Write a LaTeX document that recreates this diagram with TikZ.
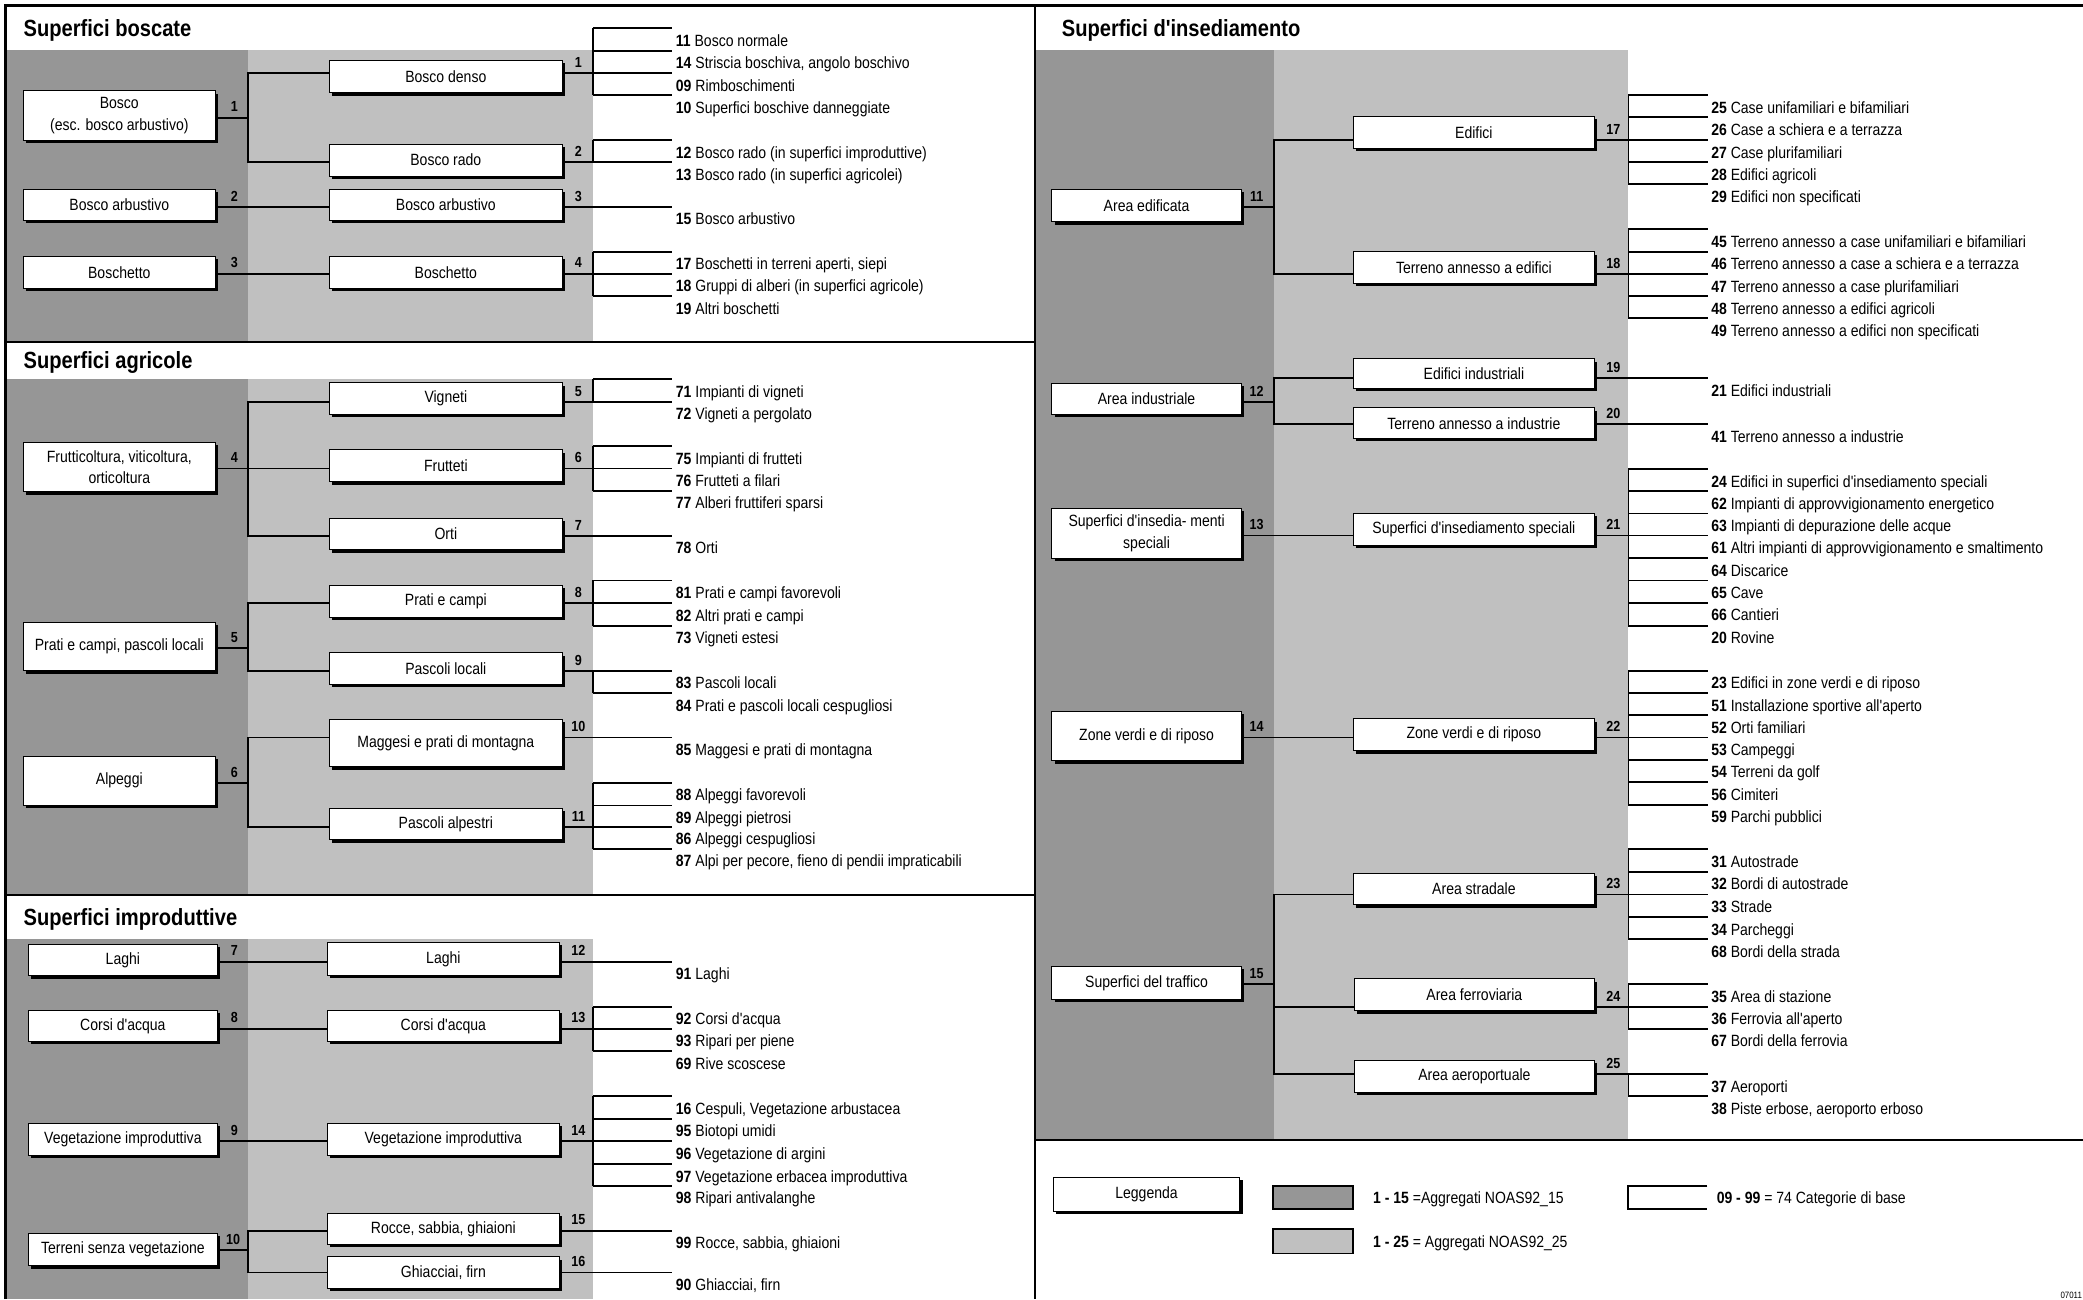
\documentclass[tikz,border=0pt]{standalone}
\usepackage{fontspec}
\setmainfont{Liberation Sans}[FakeStretch=0.86, Ligatures=TeXOff]
\usetikzlibrary{shadows}
\definecolor{dgray}{RGB}{150,150,150}
\definecolor{lgray}{RGB}{192,192,192}
\newcommand\xbody{\fontsize{8.15}{10.8}\selectfont}
\newcommand\xnum{\fontsize{7.3}{8}\selectfont\bfseries}
\newcommand\xtitle{\fontsize{11.7}{13}\selectfont\bfseries}
\tikzset{
  conn/.style={line width=0.9pt},
  frame/.style={line width=1.2pt},
  box/.style={draw, line width=0.5pt, fill=white, inner sep=0pt, font=\xbody, align=center,
    general shadow={fill=black, shadow xshift=1.4pt, shadow yshift=-1.4pt}},
  item/.style={font=\xbody, anchor=base west, inner sep=0pt},
  num/.style={font=\xnum, anchor=base, inner sep=0pt},
  ttl/.style={font=\xtitle, anchor=base west, inner sep=0pt},
  swatch/.style={draw, line width=0.9pt, inner sep=0pt},
}
% box: name, x1, y1, x2, y2, text
\newcommand\bx[6]{\node[box, minimum width={(#4-#2)*0.66425pt}, minimum height={(#5-#3)*0.66425pt}] (#1) at ({(#2+#4)/2},{(#3+#5)/2}) {#6};}
% bracket: xbracket, xend, ytop, ybottom, list y/num/text
\newcommand\brk[5]{\draw[conn] (#1,#3) -- (#1,#4);
  \foreach \yy/\nm/\tx in {#5}{\draw[conn] (#1,\yy) -- (#2,\yy);
    \node[item] (it\nm) at ({#2+2.4},{\yy+13.6}) {\textbf{\nm} \tx};}}
% number label: name, x, connector y, text
\newcommand\nlab[4]{\node[num] (#1) at (#2,{#3-4.3}) {#4};}
\begin{document}
\begin{tikzpicture}[x=0.66425pt, y=-0.66425pt]
\useasboundingbox (0,0) rectangle (1568,978);
\fill[white] (0,0) rectangle (1568,978);
% gray bands
\fill[dgray] (4,37.6) rectangle (186.4,257.5);
\fill[lgray] (186.4,37.6) rectangle (446.2,257.5);
\fill[dgray] (4,285) rectangle (186.4,673.5);
\fill[lgray] (186.4,285) rectangle (446.2,673.5);
\fill[dgray] (4,707.1) rectangle (186.4,978);
\fill[lgray] (186.4,707.1) rectangle (446.2,978);
\fill[dgray] (779,37.6) rectangle (958.8,858);
\fill[lgray] (958.8,37.6) rectangle (1225.8,858);
% frame
\draw[frame] (4,978) -- (4,4) -- (1568,4);
\draw[frame] (779,4) -- (779,978);
\draw[frame] (4,257.5) -- (779,257.5);
\draw[frame] (4,673.5) -- (779,673.5);
\draw[frame] (779,858) -- (1568,858);
% titles
\node[ttl] (T1) at (17.5,27.1) {Superfici boscate};
\node[ttl] (T2) at (17.5,277.5) {Superfici agricole};
\node[ttl] (T3) at (17.5,696.3) {Superfici improduttive};
\node[ttl] (T4) at (799,27.1) {Superfici d'insediamento};

% ===== Superfici boscate =====
\bx{d1}{17.6}{68.3}{162}{105.4}{Bosco\\(esc. bosco arbustivo)}
\bx{d2}{17.6}{142.5}{162}{166.1}{Bosco arbustivo}
\bx{d3}{17.6}{193.2}{162}{217}{Boschetto}
\bx{m1}{247.7}{45.2}{423.5}{69.8}{Bosco denso}
\bx{m2}{247.7}{108.4}{423.5}{132.5}{Bosco rado}
\bx{m3}{247.7}{142.5}{423.5}{166.1}{Bosco arbustivo}
\bx{m4}{247.7}{193.2}{423.5}{217}{Boschetto}
\draw[conn] (d1.east |- 0,88.6) -- (186.4,88.6);
\draw[conn] (m1.west |- 0,54.9) -| (186.4,122.2) -- (m2.west |- 0,122.2);
\draw[conn] (d2.east |- 0,155.6) -- (m3.west |- 0,155.6);
\draw[conn] (d3.east |- 0,206) -- (m4.west |- 0,206);
\draw[conn] (m1.east |- 0,54.9) -- (446.2,54.9);
\draw[conn] (m2.east |- 0,122.2) -- (446.2,122.2);
\draw[conn] (m3.east |- 0,155.6) -- (446.2,155.6);
\draw[conn] (m4.east |- 0,206) -- (446.2,206);
\nlab{nd1}{176.4}{88.6}{1}
\nlab{nd2}{176.4}{155.6}{2}
\nlab{nd3}{176.4}{206}{3}
\nlab{nm1}{435.4}{54.9}{1}
\nlab{nm2}{435.4}{122.2}{2}
\nlab{nm3}{435.4}{155.6}{3}
\nlab{nm4}{435.4}{206}{4}
\brk{446.2}{506.1}{21.3}{71.7}{21.3/11/{Bosco normale}, 38.1/14/{Striscia boschiva, angolo boschivo}, 54.9/09/{Rimboschimenti}, 71.7/10/{Superfici boschive danneggiate}}
\brk{446.2}{506.1}{105.4}{122.2}{105.4/12/{Bosco rado (in superfici improduttive)}, 122.2/13/{Bosco rado (in superfici agricolei)}}
\brk{446.2}{506.1}{155.6}{155.6}{155.6/15/{Bosco arbustivo}}
\brk{446.2}{506.1}{189.5}{222.8}{189.5/17/{Boschetti in terreni aperti, siepi}, 206/18/{Gruppi di alberi (in superfici agricole)}, 222.8/19/{Altri boschetti}}

% ===== Superfici agricole =====
\bx{d4}{17.6}{333.1}{162}{370.2}{Frutticoltura, viticoltura,\\orticoltura}
\bx{d5}{17.6}{468.3}{162}{504.9}{Prati e campi, pascoli locali}
\bx{d6}{17.6}{569.2}{162}{606}{Alpeggi}
\bx{m5}{247.7}{288.2}{423.5}{311.9}{Vigneti}
\bx{m6}{247.7}{338.7}{423.5}{362.7}{Frutteti}
\bx{m7}{247.7}{390.1}{423.5}{414}{Orti}
\bx{m8}{247.7}{440.6}{423.5}{464.6}{Prati e campi}
\bx{m9}{247.7}{491.5}{423.5}{515.4}{Pascoli locali}
\bx{m10}{247.7}{541.7}{423.5}{577.2}{Maggesi e prati di montagna}
\bx{m11}{247.7}{608.4}{423.5}{632.3}{Pascoli alpestri}
\draw[conn] (d4.east |- 0,352.7) -- (m6.west |- 0,352.7);
\draw[conn] (m5.west |- 0,302.5) -| (186.4,403.3) -- (m7.west |- 0,403.3);
\draw[conn] (d5.east |- 0,487.7) -- (186.4,487.7);
\draw[conn] (m8.west |- 0,454.1) -| (186.4,504.9) -- (m9.west |- 0,504.9);
\draw[conn] (d6.east |- 0,589.3) -- (186.4,589.3);
\draw[conn] (m10.west |- 0,555.2) -| (186.4,622.4) -- (m11.west |- 0,622.4);
\draw[conn] (m5.east |- 0,302.5) -- (446.2,302.5);
\draw[conn] (m6.east |- 0,352.7) -- (446.2,352.7);
\draw[conn] (m7.east |- 0,403.3) -- (446.2,403.3);
\draw[conn] (m8.east |- 0,454.1) -- (446.2,454.1);
\draw[conn] (m9.east |- 0,504.9) -- (446.2,504.9);
\draw[conn] (m10.east |- 0,555.2) -- (446.2,555.2);
\draw[conn] (m11.east |- 0,622.4) -- (446.2,622.4);
\nlab{nd4}{176.4}{352.7}{4}
\nlab{nd5}{176.4}{487.7}{5}
\nlab{nd6}{176.4}{589.3}{6}
\nlab{nm5}{435.4}{302.5}{5}
\nlab{nm6}{435.4}{352.7}{6}
\nlab{nm7}{435.4}{403.3}{7}
\nlab{nm8}{435.4}{454.1}{8}
\nlab{nm9}{435.4}{504.9}{9}
\nlab{nm10}{435.4}{555.2}{10}
\nlab{nm11}{435.4}{622.4}{11}
\brk{446.2}{506.1}{285.4}{302.5}{285.4/71/{Impianti di vigneti}, 302.5/72/{Vigneti a pergolato}}
\brk{446.2}{506.1}{335.8}{369.4}{335.8/75/{Impianti di frutteti}, 352.7/76/{Frutteti a filari}, 369.4/77/{Alberi fruttiferi sparsi}}
\brk{446.2}{506.1}{403.3}{403.3}{403.3/78/{Orti}}
\brk{446.2}{506.1}{436.9}{471}{436.9/81/{Prati e campi favorevoli}, 454.1/82/{Altri prati e campi}, 471/73/{Vigneti estesi}}
\brk{446.2}{506.1}{504.9}{521.6}{504.9/83/{Pascoli locali}, 521.6/84/{Prati e pascoli locali cespugliosi}}
\brk{446.2}{506.1}{555.2}{555.2}{555.2/85/{Maggesi e prati di montagna}}
\brk{446.2}{506.1}{589.3}{639}{589.3/88/{Alpeggi favorevoli}, 606.3/89/{Alpeggi pietrosi}, 622.4/86/{Alpeggi cespugliosi}, 639/87/{Alpi per pecore, fieno di pendii impraticabili}}

% ===== Superfici improduttive =====
\bx{d7}{21.5}{710.6}{163.5}{734.5}{Laghi}
\bx{d8}{21.5}{760.3}{163.5}{784.1}{Corsi d'acqua}
\bx{d9}{21.5}{845.6}{163.5}{869.5}{Vegetazione improduttiva}
\bx{d10}{21.5}{928.4}{163.5}{952.8}{Terreni senza vegetazione}
\bx{m12}{246.5}{709.6}{421}{734}{Laghi}
\bx{m13}{246.5}{760.3}{421}{784.1}{Corsi d'acqua}
\bx{m14}{246.5}{845.6}{421}{869.5}{Vegetazione improduttiva}
\bx{m15}{246.5}{913.4}{421}{936.7}{Rocce, sabbia, ghiaioni}
\bx{m16}{246.5}{946}{421}{969.9}{Ghiacciai, firn}
\draw[conn] (d7.east |- 0,723.9) -- (m12.west |- 0,723.9);
\draw[conn] (d8.east |- 0,774.3) -- (m13.west |- 0,774.3);
\draw[conn] (d9.east |- 0,858.9) -- (m14.west |- 0,858.9);
\draw[conn] (d10.east |- 0,941) -- (186.4,941);
\draw[conn] (m15.west |- 0,926.4) -| (186.4,957.8) -- (m16.west |- 0,957.8);
\draw[conn] (m12.east |- 0,723.9) -- (446.2,723.9);
\draw[conn] (m13.east |- 0,774.3) -- (446.2,774.3);
\draw[conn] (m14.east |- 0,858.9) -- (446.2,858.9);
\draw[conn] (m15.east |- 0,926.4) -- (446.2,926.4);
\draw[conn] (m16.east |- 0,957.8) -- (446.2,957.8);
\nlab{nd7}{176.4}{723.9}{7}
\nlab{nd8}{176.4}{774.3}{8}
\nlab{nd9}{176.4}{858.9}{9}
\nlab{nd10}{175.4}{941}{10}
\nlab{nm12}{435.4}{723.9}{12}
\nlab{nm13}{435.4}{774.3}{13}
\nlab{nm14}{435.4}{858.9}{14}
\nlab{nm15}{435.4}{926.4}{15}
\nlab{nm16}{435.4}{957.8}{16}
\brk{446.2}{506.1}{723.9}{723.9}{723.9/91/{Laghi}}
\brk{446.2}{506.1}{757.8}{791.2}{757.8/92/{Corsi d'acqua}, 774.3/93/{Ripari per piene}, 791.2/69/{Rive scoscese}}
\brk{446.2}{506.1}{825.1}{892.6}{825.1/16/{Cespuli, Vegetazione arbustacea}, 842.1/95/{Biotopi umidi}, 858.9/96/{Vegetazione di argini}, 876.3/97/{Vegetazione erbacea improduttiva}, 892.6/98/{Ripari antivalanghe}}
\brk{446.2}{506.1}{926.4}{926.4}{926.4/99/{Rocce, sabbia, ghiaioni}}
\brk{446.2}{506.1}{957.8}{957.8}{957.8/90/{Ghiacciai, firn}}

% ===== Superfici d'insediamento =====
\bx{D11}{791.7}{142.5}{934.5}{166.9}{Area edificata}
\bx{D12}{791.7}{288.6}{934.5}{312}{Area industriale}
\bx{D13}{791.7}{382.7}{934.5}{420.3}{Superfici d'insedia- menti\\speciali}
\bx{D14}{791.7}{535.6}{934.5}{572.8}{Zone verdi e di riposo}
\bx{D15}{791.7}{727.6}{934.5}{752.2}{Superfici del traffico}
\bx{L17}{1018.8}{87.8}{1200.2}{111.7}{Edifici}
\bx{L18}{1018.8}{189.5}{1200.2}{213.3}{Terreno annesso a edifici}
\bx{L19}{1018.8}{270.2}{1200.2}{292.4}{Edifici industriali}
\bx{L20}{1018.8}{307}{1200.2}{330.1}{Terreno annesso a industrie}
\bx{L21}{1018.8}{386.5}{1200.2}{410.3}{Superfici d'insediamento speciali}
\bx{L22}{1018.8}{541}{1200.2}{565.1}{Zone verdi e di riposo}
\bx{L23}{1018.8}{657.3}{1200.2}{681.1}{Area stradale}
\bx{L24}{1019.5}{736.8}{1200.2}{761}{Area ferroviaria}
\bx{L25}{1019.5}{798.3}{1200.2}{822.5}{Area aeroportuale}
\draw[conn] (D11.east |- 0,155.6) -- (958.8,155.6);
\draw[conn] (L17.west |- 0,105.4) -| (958.8,206.3) -- (L18.west |- 0,206.3);
\draw[conn] (D12.east |- 0,302.8) -- (958.8,302.8);
\draw[conn] (L19.west |- 0,284.8) -| (958.8,319.3) -- (L20.west |- 0,319.3);
\draw[conn] (D13.east |- 0,403.1) -- (L21.west |- 0,403.1);
\draw[conn] (D14.east |- 0,555.1) -- (L22.west |- 0,555.1);
\draw[conn] (D15.east |- 0,740.7) -- (958.8,740.7);
\draw[conn] (L23.west |- 0,673.4) -| (958.8,808.6) -- (L25.west |- 0,808.6);
\draw[conn] (958.8,757.9) -- (L24.west |- 0,757.9);
\draw[conn] (L17.east |- 0,105.4) -- (1225.8,105.4);
\draw[conn] (L18.east |- 0,206.3) -- (1225.8,206.3);
\draw[conn] (L19.east |- 0,284.8) -- (1225.8,284.8);
\draw[conn] (L20.east |- 0,319.3) -- (1225.8,319.3);
\draw[conn] (L21.east |- 0,403.1) -- (1225.8,403.1);
\draw[conn] (L22.east |- 0,555.1) -- (1225.8,555.1);
\draw[conn] (L23.east |- 0,673.4) -- (1225.8,673.4);
\draw[conn] (L24.east |- 0,757.9) -- (1225.8,757.9);
\draw[conn] (L25.east |- 0,808.6) -- (1225.8,808.6);
\nlab{nD11}{946}{155.6}{11}
\nlab{nD12}{946}{302.8}{12}
\nlab{nD13}{946}{403.1}{13}
\nlab{nD14}{946}{555.1}{14}
\nlab{nD15}{946}{740.7}{15}
\nlab{nL17}{1214.5}{105.4}{17}
\nlab{nL18}{1214.5}{206.3}{18}
\nlab{nL19}{1214.5}{284.8}{19}
\nlab{nL20}{1214.5}{319.3}{20}
\nlab{nL21}{1214.5}{403.1}{21}
\nlab{nL22}{1214.5}{555.1}{22}
\nlab{nL23}{1214.5}{673.4}{23}
\nlab{nL24}{1214.5}{757.9}{24}
\nlab{nL25}{1214.5}{808.6}{25}
\brk{1225.8}{1285.5}{71.5}{138.8}{71.5/25/{Case unifamiliari e bifamiliari}, 88.3/26/{Case a schiera e a terrazza}, 105.4/27/{Case plurifamiliari}, 122.2/28/{Edifici agricoli}, 138.8/29/{Edifici non specificati}}
\brk{1225.8}{1285.5}{172.6}{239.6}{172.6/45/{Terreno annesso a case unifamiliari e bifamiliari}, 189.5/46/{Terreno annesso a case a schiera e a terrazza}, 206.3/47/{Terreno annesso a case plurifamiliari}, 222.8/48/{Terreno annesso a edifici agricoli}, 239.6/49/{Terreno annesso a edifici non specificati}}
\brk{1225.8}{1285.5}{284.8}{284.8}{284.8/21/{Edifici industriali}}
\brk{1225.8}{1285.5}{319.3}{319.3}{319.3/41/{Terreno annesso a industrie}}
\brk{1225.8}{1285.5}{353.1}{471}{353.1/24/{Edifici in superfici d'insediamento speciali}, 369.6/62/{Impianti di approvvigionamento energetico}, 386.5/63/{Impianti di depurazione delle acque}, 403.1/61/{Altri impianti di approvvigionamento e smaltimento}, 420/64/{Discarice}, 436.9/65/{Cave}, 453.7/66/{Cantieri}, 471/20/{Rovine}}
\brk{1225.8}{1285.5}{504.8}{605.9}{504.8/23/{Edifici in zone verdi e di riposo}, 521.7/51/{Installazione sportive all'aperto}, 538.2/52/{Orti familiari}, 555.1/53/{Campeggi}, 572/54/{Terreni da golf}, 588.9/56/{Cimiteri}, 605.9/59/{Parchi pubblici}}
\brk{1225.8}{1285.5}{639.3}{706.8}{639.3/31/{Autostrade}, 656.1/32/{Bordi di autostrade}, 673.4/33/{Strade}, 690.3/34/{Parcheggi}, 706.8/68/{Bordi della strada}}
\brk{1225.8}{1285.5}{740.7}{774.4}{740.7/35/{Area di stazione}, 757.9/36/{Ferrovia all'aperto}, 774.4/67/{Bordi della ferrovia}}
\brk{1225.8}{1285.5}{808.6}{825.1}{808.6/37/{Aeroporti}, 825.1/38/{Piste erbose, aeroporto erboso}}

% ===== Legenda =====
\bx{leg}{792.9}{886.5}{933.2}{912.1}{Leggenda}
\node[swatch, fill=dgray, minimum width={60.1*0.66425pt}, minimum height={17.5*0.66425pt}] (sw1) at (988.25,901.35) {};
\node[swatch, fill=lgray, minimum width={60.1*0.66425pt}, minimum height={18.1*0.66425pt}] (sw2) at (988.25,934.45) {};
\coordinate (sw3) at (1225.2,892.6);
\draw[conn] (sw3) ++(60,0) -- (sw3) -- ++(0,17.5) -- ++(60,0);
\node[item] (lg1) at (1033.3,905.6) {\textbf{1 - 15} =Aggregati NOAS92\_15};
\node[item] (lg2) at (1033.3,939) {\textbf{1 - 25} = Aggregati NOAS92\_25};
\node[item] (lg3) at (1292,905.6) {\textbf{09 - 99} = 74 Categorie di base};
\node[font=\fontsize{4.6}{5}\selectfont, anchor=base east, inner sep=0pt] (code) at (1567.5,977.2) {07011};
\end{tikzpicture}
\end{document}
